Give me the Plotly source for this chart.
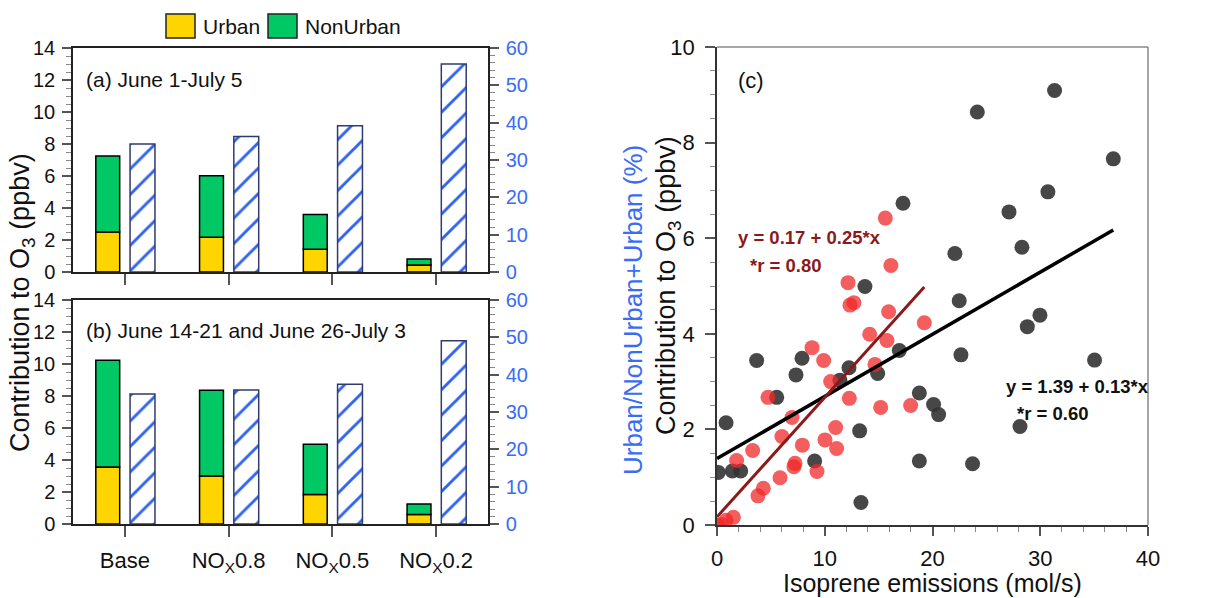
import plotly.graph_objects as go

# ---------------- data ----------------
categories = ["Base", "NO<sub>X</sub>0.8", "NO<sub>X</sub>0.5", "NO<sub>X</sub>0.2"]
cat_pos = [0, 1, 2, 3]

urban_a = [2.50, 2.17, 1.42, 0.44]
nonurban_a = [4.75, 3.85, 2.18, 0.37]
pct_a = [34.3, 36.3, 39.2, 55.7]

urban_b = [3.56, 3.00, 1.85, 0.60]
nonurban_b = [6.67, 5.36, 3.14, 0.65]
pct_b = [34.8, 35.9, 37.4, 49.1]

# panel (c): all days (dark) and selected days (red)
iso_all = [24.16, 31.33, 36.78, 17.26, 30.71, 27.10, 28.30, 22.08, 13.73, 22.48,
           0.12, 0.84, 1.42, 2.20, 3.68, 5.54, 7.33, 7.89, 9.06, 11.41,
           12.25, 13.24, 13.36, 14.91, 16.92, 18.78, 18.78, 20.10, 20.57, 22.64,
           23.72, 28.12, 28.80, 29.97, 35.04]
o3_all = [8.64, 9.09, 7.66, 6.73, 6.97, 6.55, 5.81, 5.68, 4.99, 4.69,
          1.10, 2.14, 1.13, 1.13, 3.44, 2.67, 3.14, 3.49, 1.34, 3.03,
          3.29, 1.97, 0.47, 3.17, 3.65, 2.76, 1.34, 2.52, 2.31, 3.56,
          1.28, 2.06, 4.15, 4.39, 3.45]

iso_sel = [15.62, 16.14, 12.16, 12.34, 12.71, 0.03, 0.43, 0.84, 1.52, 1.82,
           3.31, 3.80, 4.30, 4.73, 5.85, 6.03, 6.96, 7.14, 7.24, 7.92,
           8.82, 9.28, 9.90, 10.02, 10.55, 11.01, 11.10, 12.28, 14.17, 14.66,
           15.19, 15.77, 15.93, 17.97, 19.24]
o3_sel = [6.42, 5.43, 5.07, 4.60, 4.65, 0.00, 0.01, 0.10, 0.16, 1.35,
          1.56, 0.61, 0.77, 2.67, 0.99, 1.85, 2.25, 1.22, 1.29, 1.67,
          3.71, 1.12, 3.44, 1.78, 3.00, 2.04, 1.60, 2.65, 3.99, 3.36,
          2.46, 3.86, 4.46, 2.50, 4.23]

fit_all = (1.39, 0.13, 0.60)   # intercept, slope, r
fit_sel = (0.17, 0.25, 0.80)

# ---------------- styles ----------------
FONT = "Liberation Sans, Arial, Helvetica, sans-serif"
YELLOW = "#FFD500"
GREEN = "#00C864"
BLUE = "#3A6CF4"
NAVY = "#2F3C6E"
DARKRED = "#8B1A1A"

fig = go.Figure()

def add_bars(xa, ya, ya2, urban, nonurban, pct):
    fig.add_trace(go.Bar(x=cat_pos, y=urban, base=0, width=0.23, offset=-0.28,
                         marker=dict(color=YELLOW, line=dict(color="black", width=1.5)),
                         name="Urban", xaxis=xa, yaxis=ya, showlegend=False))
    fig.add_trace(go.Bar(x=cat_pos, y=nonurban, base=urban, width=0.23, offset=-0.28,
                         marker=dict(color=GREEN, line=dict(color="black", width=1.5)),
                         name="NonUrban", xaxis=xa, yaxis=ya, showlegend=False))
    fig.add_trace(go.Bar(x=cat_pos, y=pct, base=0, width=0.24, offset=0.05,
                         marker=dict(color="white", line=dict(color=NAVY, width=1.5),
                                     pattern=dict(shape="/", fgcolor="#2F62F0", bgcolor="white",
                                                  fgopacity=1, size=18, solidity=0.16)),
                         name="ratio", xaxis=xa, yaxis=ya2, showlegend=False))

add_bars("x", "y", "y2", urban_a, nonurban_a, pct_a)
add_bars("x2", "y3", "y4", urban_b, nonurban_b, pct_b)

# scatter
fig.add_trace(go.Scatter(x=iso_all, y=o3_all, mode="markers", xaxis="x3", yaxis="y5",
                         marker=dict(color="#333333", size=15, opacity=0.9), showlegend=False))
fig.add_trace(go.Scatter(x=iso_sel, y=o3_sel, mode="markers", xaxis="x3", yaxis="y5",
                         marker=dict(color="#F02828", size=15, opacity=0.75), showlegend=False))

for iso, (b0, b1, r), col, w in [(iso_all, fit_all, "black", 3.5), (iso_sel, fit_sel, DARKRED, 3)]:
    xs = [0, max(iso)]
    ys = [b0 + b1 * v for v in xs]
    fig.add_trace(go.Scatter(x=xs, y=ys, mode="lines", xaxis="x3", yaxis="y5",
                             line=dict(color=col, width=w), showlegend=False))

# ---------------- axes ----------------
tickfont_bar = dict(family=FONT, size=20, color="#111")
tickfont_c = dict(family=FONT, size=22, color="#111")

def bar_x(domain, labels, anchor):
    return dict(domain=domain, anchor=anchor, range=[-0.5, 3.5], tickvals=cat_pos,
                ticktext=categories, showticklabels=labels, ticks="outside", ticklen=11,
                tickcolor="#555", tickwidth=1.5, showline=True, linecolor="#222", linewidth=1.5,
                mirror=True, showgrid=False, zeroline=False, automargin=False,
                tickfont=dict(family=FONT, size=22, color="#111"), ticklabelstandoff=5)

def bar_yl(domain, anchor):
    return dict(domain=domain, anchor=anchor, range=[0, 14], dtick=2, tick0=0,
                ticks="outside", ticklen=9, tickcolor="#555", tickwidth=1.5,
                minor=dict(dtick=0.5, ticks="outside", ticklen=5, tickcolor="#888", tickwidth=1),
                showline=True, linecolor="#222", linewidth=1.5, showgrid=False, zeroline=False,
                automargin=False, tickfont=tickfont_bar, ticklabelstandoff=3)

def bar_yr(over, anchor):
    return dict(overlaying=over, anchor=anchor, side="right", range=[0, 60], dtick=10, tick0=0,
                ticks="outside", ticklen=9, tickcolor="#555", tickwidth=1.5,
                minor=dict(dtick=2, ticks="outside", ticklen=5, tickcolor="#888", tickwidth=1),
                showline=True, linecolor="#222", linewidth=1.5, showgrid=False, zeroline=False,
                automargin=False, tickfont=dict(family=FONT, size=20, color=BLUE), ticklabelstandoff=3)

W, H = 1226, 598
def dx(a, b):
    return [a / W, b / W]
def dy(top, bot):
    return [1 - bot / H, 1 - top / H]

fig.update_layout(
    width=W, height=H, margin=dict(l=0, r=0, t=0, b=0, autoexpand=False),
    paper_bgcolor="white", plot_bgcolor="white", barmode="overlay",
    font=dict(family=FONT, color="#111"),
    xaxis=bar_x(dx(73, 488), False, "y"),
    yaxis=bar_yl(dy(48, 272), "x"),
    yaxis2=bar_yr("y", "x"),
    xaxis2=bar_x(dx(73, 488), True, "y3"),
    yaxis3=bar_yl(dy(300, 524), "x2"),
    yaxis4=bar_yr("y3", "x2"),
    xaxis3=dict(domain=dx(717, 1148), anchor="y5", range=[0, 40], dtick=10, tick0=0,
                ticks="outside", ticklen=9, tickcolor="#555", tickwidth=1.5,
                minor=dict(dtick=2, ticks="outside", ticklen=5, tickcolor="#888", tickwidth=1),
                showline=True, linecolor="#333", linewidth=1.5, showgrid=False, zeroline=False,
                automargin=False, tickfont=tickfont_c, ticklabelstandoff=4),
    yaxis5=dict(domain=dy(47, 525), anchor="x3", range=[0, 10], dtick=2, tick0=0,
                ticks="outside", ticklen=10, tickcolor="#555", tickwidth=1.5,
                minor=dict(dtick=0.5, ticks="outside", ticklen=5, tickcolor="#888", tickwidth=1),
                showline=True, linecolor="#333", linewidth=1.5, showgrid=False, zeroline=False,
                automargin=False, tickfont=tickfont_c, ticklabelstandoff=6),
)

# frame top/right of panel (c)
fig.add_shape(type="line", xref="x3 domain", yref="y5 domain", x0=0, x1=1, y0=1, y1=1,
              line=dict(color="#888", width=1.5))
fig.add_shape(type="line", xref="x3 domain", yref="y5 domain", x0=1, x1=1, y0=0, y1=1,
              line=dict(color="#888", width=1.5))

# legend boxes
fig.add_shape(type="rect", xref="paper", yref="paper", x0=166 / W, x1=195 / W, y0=1 - 38 / H, y1=1 - 14 / H,
              fillcolor=YELLOW, line=dict(color="#222", width=1.5))
fig.add_shape(type="rect", xref="paper", yref="paper", x0=268 / W, x1=297 / W, y0=1 - 38 / H, y1=1 - 14 / H,
              fillcolor=GREEN, line=dict(color="#222", width=1.5))

ann = []
def text(x, y, s, size=21, color="#111", bold=False, anchor="left", angle=0):
    ann.append(dict(xref="paper", yref="paper", x=x / W, y=1 - y / H, text=("<b>%s</b>" % s) if bold else s,
                    showarrow=False, xanchor=anchor, yanchor="middle", textangle=angle,
                    font=dict(family=FONT, size=size, color=color)))

text(201, 27, "Urban", 21)
text(303, 27, "NonUrban", 21)
text(84, 79, "(a) June 1-July 5", 21)
text(84, 330, "(b) June 14-21 and June 26-July 3", 21)
text(22, 303, "Contribution to O<sub>3</sub> (ppbv)", 27, anchor="center", angle=-90)
text(633, 310, "Urban/NonUrban+Urban (%)", 26, color=BLUE, anchor="center", angle=-90)
text(668, 286, "Contribution to O<sub>3</sub> (ppbv)", 27, anchor="center", angle=-90)
text(932, 583, "Isoprene emissions (mol/s)", 25, anchor="center")
text(736, 80, "(c)", 22)
text(736, 237, "y = %.2f + %.2f*x" % (fit_sel[0], fit_sel[1]), 18.5, color=DARKRED, bold=True)
text(748, 265, "*r = %.2f" % fit_sel[2], 18.5, color=DARKRED, bold=True)
text(1004, 386, "y = %.2f + %.2f*x" % (fit_all[0], fit_all[1]), 18.5, color="#111", bold=True)
text(1015, 413, "*r = %.2f" % fit_all[2], 18.5, color="#111", bold=True)
fig.update_layout(annotations=ann)

fig.write_html("out.html", config={"displayModeBar": False},
               post_script="document.body.style.margin='0px';document.body.style.overflow='hidden';")
